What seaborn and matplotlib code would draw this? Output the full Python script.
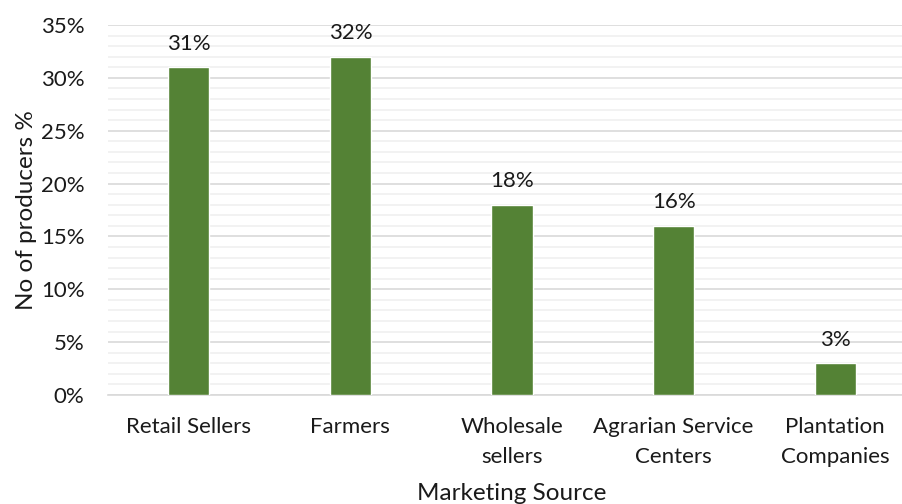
import matplotlib
matplotlib.use("Agg")
import matplotlib.pyplot as plt
import seaborn as sns
import pandas as pd
from matplotlib.ticker import MultipleLocator, PercentFormatter

categories = ["Retail Sellers", "Farmers", "Wholesale\nsellers",
              "Agrarian Service\nCenters", "Plantation\nCompanies"]
values = [31, 32, 18, 16, 3]

df = pd.DataFrame({"source": categories, "pct": values})

sns.set_style("white")
plt.rcParams["font.family"] = ["Lato", "DejaVu Sans"]

fig = plt.figure(figsize=(9.02, 5.04), dpi=100)
ax = fig.add_axes([108 / 902, 109 / 504, 808 / 902, 370 / 504])

sns.barplot(data=df, x="source", y="pct", color="#548235", width=0.255,
            saturation=1, ax=ax, zorder=3)

for i, v in enumerate(values):
    ax.annotate(f"{v}%", (i, v), xytext=(0, 17), textcoords="offset points",
                ha="center", va="center", fontsize=16, color="#1a1a1a")

ax.set_ylim(0, 35)
ax.set_xlim(-0.5, 4.5)
ax.yaxis.set_major_locator(MultipleLocator(5))
ax.yaxis.set_minor_locator(MultipleLocator(1))
ax.yaxis.set_major_formatter(PercentFormatter(decimals=0))
ax.grid(axis="y", which="major", color="#d9d9d9", linewidth=1.2, zorder=0)
ax.grid(axis="y", which="minor", color="#f0f0f0", linewidth=1.2, zorder=0)
ax.set_axisbelow(True)

for s in ["top", "right", "left"]:
    ax.spines[s].set_visible(False)
ax.spines["bottom"].set_color("#d9d9d9")
ax.spines["bottom"].set_linewidth(1.2)

ax.tick_params(axis="both", which="both", length=0, labelsize=16,
               colors="#1a1a1a")
ax.tick_params(axis="x", pad=16)
ax.tick_params(axis="y", pad=17)
for lbl in ax.get_xticklabels():
    lbl.set_linespacing(1.6)
ax.set_xlabel("Marketing Source", fontsize=17.5, color="#1a1a1a", labelpad=12)
ax.set_ylabel("No of producers %", fontsize=17.5, color="#1a1a1a", labelpad=3)

fig.savefig("out.png", dpi=100)
